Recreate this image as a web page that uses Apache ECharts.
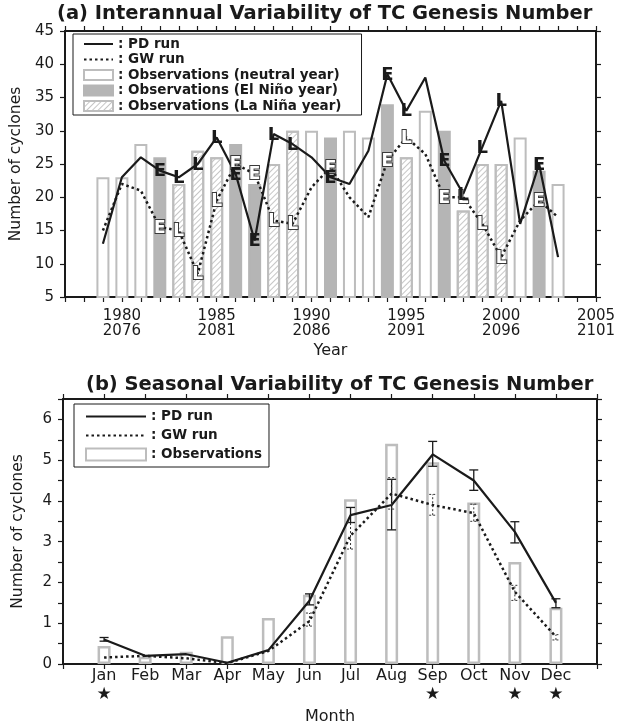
<!DOCTYPE html>
<html>
<head>
<meta charset="utf-8">
<title>TC Genesis Number</title>
<script src="https://cdn.jsdelivr.net/npm/echarts@6/dist/echarts.min.js"></script>
<style>
  html, body { margin: 0; padding: 0; background: #fff; }
  #chart { width: 628px; height: 726px; }
</style>
</head>
<body>
<div id="chart"></div>
<script>
// (a) interannual variability
const years = [1979, 1980, 1981, 1982, 1983, 1984, 1985, 1986, 1987, 1988, 1989, 1990, 1991,
               1992, 1993, 1994, 1995, 1996, 1997, 1998, 1999, 2000, 2001, 2002, 2003];
const ensoType = ['N', 'N', 'N', 'E', 'L', 'L', 'L', 'E', 'E', 'L', 'L', 'N', 'E',
                  'N', 'N', 'E', 'L', 'N', 'E', 'L', 'L', 'L', 'N', 'E', 'N'];
const obsYear = [23, 23, 28, 26, 22, 27, 26, 28, 22, 25, 30, 30, 29,
                 30, 29, 34, 26, 33, 30, 18, 25, 25, 29, 24, 22];
const pdYear = [13, 23, 26, 24, 23, 25, 29, 23.5, 13.5, 29.5, 28, 26, 23,
                22, 27, 38.5, 33, 38, 25.5, 20.5, 27.5, 34.5, 16, 25, 11];
const gwYear = [15, 22, 21, 15.5, 15, 8.5, 19.5, 25, 23.5, 16.5, 16, 21.5, 24.5,
                20, 17, 25.5, 29, 26.5, 20, 20, 16, 11, 16.5, 19.5, 17];
const yearTicks = [1980, 1985, 1990, 1995, 2000, 2005];
const futureTicks = [2076, 2081, 2086, 2091, 2096, 2101];

// (b) seasonal variability
const months = ['Jan', 'Feb', 'Mar', 'Apr', 'May', 'Jun', 'Jul', 'Aug', 'Sep', 'Oct', 'Nov', 'Dec'];
const starred = [true, false, false, false, false, false, false, false, true, false, true, true];
const obsMonth = [0.44, 0.18, 0.3, 0.68, 1.13, 1.7, 4.04, 5.4, 4.95, 3.96, 2.5, 1.38];
const pdMonth = [0.6, 0.2, 0.24, 0.03, 0.34, 1.55, 3.65, 3.9, 5.14, 4.5, 3.24, 1.5];
const pdErrLow = [0.56, null, null, null, null, 1.45, 3.47, 3.29, 4.85, 4.26, 2.97, 1.38];
const pdErrHigh = [0.65, null, null, null, null, 1.72, 3.84, 4.53, 5.46, 4.76, 3.49, 1.6];
const gwMonth = [0.16, 0.2, 0.14, 0.02, 0.32, 1.05, 3.15, 4.18, 3.9, 3.7, 1.77, 0.67];
const gwErrLow = [null, null, null, null, null, 0.93, 2.82, 3.8, 3.65, 3.5, 1.56, 0.59];
const gwErrHigh = [null, null, null, null, null, 1.25, 3.47, 4.57, 4.16, 3.92, 1.93, 0.72];

const FONT = "'DejaVu Sans', sans-serif";
const INK = '#1a1a1a';
const BAR_EDGE = '#bdbdbd';
const NO_MARK = 'rgba(0,0,0,0)';

function byType(t) {
  return years.map((y, i) => [y, obsYear[i], ensoType[i]])
    .filter(d => d[2] === t).map(d => [d[0], d[1]]);
}
const ensoIdx = years.map((y, i) => i).filter(i => ensoType[i] !== 'N');

function letterSeries(values, hollow) {
  return {
    type: 'custom', xAxisIndex: 0, yAxisIndex: 0, z: 5,
    data: ensoIdx.map(i => [years[i], values[i]]),
    renderItem(params, api) {
      const p = api.coord([api.value(0), api.value(1)]);
      const letter = ensoType[ensoIdx[params.dataIndex]];
      return {
        type: 'text', x: p[0], y: p[1] + 1,
        style: hollow ? {
          text: letter, font: 'bold 17px ' + FONT, align: 'center', verticalAlign: 'middle',
          fill: '#fff', stroke: '#3a3a3a', lineWidth: 2
        } : {
          text: letter, font: 'bold 18px ' + FONT, align: 'center', verticalAlign: 'middle',
          fill: INK
        }
      };
    }
  };
}

function errSeries(lo, hi, dotted) {
  const data = [];
  lo.forEach((v, i) => { if (v != null) data.push([i + 1, v, hi[i]]); });
  return {
    type: 'custom', xAxisIndex: 2, yAxisIndex: 2, z: 4,
    encode: { x: 0, y: [1, 2] },
    data: data,
    renderItem(params, api) {
      const x = api.value(0);
      const a = api.coord([x, api.value(1)]);
      const b = api.coord([x, api.value(2)]);
      const w = dotted ? 3.5 : 4.5;
      const st = dotted ? { stroke: '#333', lineWidth: 1, lineDash: [2, 2] } : { stroke: INK, lineWidth: 1.3 };
      return {
        type: 'group', children: [
          { type: 'line', shape: { x1: a[0], y1: a[1], x2: b[0], y2: b[1] }, style: st },
          { type: 'line', shape: { x1: a[0] - w, y1: a[1], x2: a[0] + w, y2: a[1] }, style: st },
          { type: 'line', shape: { x1: b[0] - w, y1: b[1], x2: b[0] + w, y2: b[1] }, style: st }
        ]
      };
    }
  };
}

const frameLine = { show: true, onZero: false, lineStyle: { color: INK, width: 2 } };
const tick = { show: true, length: 5, lineStyle: { color: INK, width: 1.2 } };
const lineLegend = name => ({ name: name, itemStyle: { color: NO_MARK, borderColor: NO_MARK, opacity: 0 } });

const myChart = echarts.init(document.getElementById('chart'));
myChart.setOption({
  backgroundColor: '#fff',
  animation: false,
  title: [
    { text: '(a) Interannual Variability of TC Genesis Number', left: 57, top: 4, padding: 0,
      textStyle: { fontFamily: FONT, fontWeight: 'bold', fontSize: 19.5, color: INK } },
    { text: '(b) Seasonal Variability of TC Genesis Number', left: 86, top: 375, padding: 0,
      textStyle: { fontFamily: FONT, fontWeight: 'bold', fontSize: 19.5, color: INK } }
  ],
  legend: [
    {
      left: 73, top: 34, orient: 'vertical', selectedMode: false,
      itemWidth: 29, itemHeight: 10, itemGap: 1.5,
      padding: [3, 20, 2, 10], borderColor: INK, borderWidth: 1, backgroundColor: '#fff',
      formatter: ': {name}',
      textStyle: { fontFamily: FONT, fontWeight: 'bold', fontSize: 13.5, color: INK, lineHeight: 14 },
      data: [
        lineLegend('PD run'), lineLegend('GW run'),
        { name: 'Observations (neutral year)', icon: 'rect' },
        { name: 'Observations (El Niño year)', icon: 'rect' },
        { name: 'Observations (La Niña year)', icon: 'rect' }
      ]
    },
    {
      left: 74, top: 404, orient: 'vertical', selectedMode: false,
      itemWidth: 60, itemHeight: 12, itemGap: 4,
      padding: [5, 7, 5, 11], borderColor: INK, borderWidth: 1, backgroundColor: '#fff',
      formatter: ': {name}',
      textStyle: { fontFamily: FONT, fontWeight: 'bold', fontSize: 13.5, color: INK, lineHeight: 15 },
      data: [lineLegend('PD run'), lineLegend('GW run'), { name: 'Observations', icon: 'rect' }]
    }
  ],
  grid: [
    { left: 63, top: 31, width: 533, height: 266 },
    { left: 63, top: 399, width: 534, height: 267 }
  ],
  xAxis: [
    {
      gridIndex: 0, type: 'value', position: 'bottom', min: 1977, max: 2005, interval: 1,
      axisLine: frameLine, axisTick: tick, splitLine: { show: false },
      name: 'Year', nameLocation: 'middle', nameGap: 46,
      nameTextStyle: { fontFamily: FONT, fontSize: 16, color: INK },
      axisLabel: {
        margin: 12, showMaxLabel: true, showMinLabel: true,
        formatter(v) {
          const i = yearTicks.indexOf(v);
          return i < 0 ? '' : '{a|' + v + '}\n{b|' + futureTicks[i] + '}';
        },
        rich: {
          a: { fontFamily: FONT, fontSize: 15, lineHeight: 15, color: INK },
          b: { fontFamily: FONT, fontSize: 15, lineHeight: 15, color: INK }
        }
      }
    },
    {
      gridIndex: 0, type: 'value', position: 'top', min: 1977, max: 2005, interval: 1,
      axisLine: frameLine, axisTick: tick, axisLabel: { show: false }, splitLine: { show: false }
    },
    {
      gridIndex: 1, type: 'value', position: 'bottom', min: 0, max: 13, interval: 1,
      axisLine: frameLine, axisTick: tick, splitLine: { show: false },
      name: 'Month', nameLocation: 'middle', nameGap: 45,
      nameTextStyle: { fontFamily: FONT, fontSize: 16, color: INK },
      axisLabel: {
        margin: 3, showMaxLabel: true, showMinLabel: true,
        formatter(v) {
          if (v < 1 || v > 12) return '';
          return '{m|' + months[v - 1] + '}' + (starred[v - 1] ? '\n{s|★}' : '');
        },
        rich: {
          m: { fontFamily: FONT, fontSize: 16, lineHeight: 18, color: INK },
          s: { fontFamily: FONT, fontSize: 17, lineHeight: 20, color: INK }
        }
      }
    },
    {
      gridIndex: 1, type: 'value', position: 'top', min: 0, max: 13, interval: 1,
      axisLine: frameLine, axisTick: tick, axisLabel: { show: false }, splitLine: { show: false }
    }
  ],
  yAxis: [
    {
      gridIndex: 0, type: 'value', position: 'left', min: 5, max: 45, interval: 5,
      axisLine: frameLine, axisTick: tick, splitLine: { show: false },
      name: 'Number of cyclones', nameLocation: 'middle', nameGap: 37, nameRotate: 90,
      nameTextStyle: { fontFamily: FONT, fontSize: 15.5, color: INK },
      axisLabel: { margin: 11, fontFamily: FONT, fontSize: 15, color: INK }
    },
    {
      gridIndex: 0, type: 'value', position: 'right', min: 5, max: 45, interval: 5,
      axisLine: frameLine, axisTick: tick, axisLabel: { show: false }, splitLine: { show: false }
    },
    {
      gridIndex: 1, type: 'value', position: 'left', min: 0, max: 6.5, interval: 0.5,
      axisLine: frameLine, axisTick: tick, splitLine: { show: false },
      name: 'Number of cyclones', nameLocation: 'middle', nameGap: 37, nameRotate: 90,
      nameTextStyle: { fontFamily: FONT, fontSize: 15.5, color: INK },
      axisLabel: {
        margin: 11, fontFamily: FONT, fontSize: 15, color: INK,
        formatter: v => (Number.isInteger(v) ? String(v) : '')
      }
    },
    {
      gridIndex: 1, type: 'value', position: 'right', min: 0, max: 6.5, interval: 0.5,
      axisLine: frameLine, axisTick: tick, axisLabel: { show: false }, splitLine: { show: false }
    }
  ],
  series: [
    // observations (a)
    {
      name: 'Observations (neutral year)', type: 'bar', xAxisIndex: 0, yAxisIndex: 0,
      barWidth: 13, barGap: '-100%', data: byType('N'),
      itemStyle: { color: '#fff', borderColor: BAR_EDGE, borderWidth: 2 }
    },
    {
      name: 'Observations (El Niño year)', type: 'bar', xAxisIndex: 0, yAxisIndex: 0,
      barWidth: 13, barGap: '-100%', data: byType('E'),
      itemStyle: { color: '#b5b5b5', borderColor: '#b5b5b5', borderWidth: 2 }
    },
    {
      name: 'Observations (La Niña year)', type: 'bar', xAxisIndex: 0, yAxisIndex: 0,
      barWidth: 13, barGap: '-100%', data: byType('L'),
      itemStyle: {
        color: '#fff', borderColor: BAR_EDGE, borderWidth: 2,
        decal: { symbol: 'rect', symbolSize: 1, dashArrayX: [1, 0], dashArrayY: [1, 3],
                 rotation: -Math.PI / 4, color: '#c6c6c6' }
      }
    },
    {
      name: 'PD run', type: 'line', xAxisIndex: 0, yAxisIndex: 0, symbol: 'none', z: 3,
      data: years.map((y, i) => [y, pdYear[i]]),
      lineStyle: { color: INK, width: 2.2 }, itemStyle: { color: NO_MARK }
    },
    {
      name: 'GW run', type: 'line', xAxisIndex: 0, yAxisIndex: 0, symbol: 'none', z: 3,
      data: years.map((y, i) => [y, gwYear[i]]),
      lineStyle: { color: INK, width: 2.5, type: [2.5, 3] }, itemStyle: { color: NO_MARK }
    },
    letterSeries(gwYear, true),
    letterSeries(pdYear, false),
    // (b)
    {
      name: 'Observations', type: 'bar', xAxisIndex: 2, yAxisIndex: 2,
      barWidth: 13, data: months.map((m, i) => [i + 1, obsMonth[i]]),
      itemStyle: { color: '#fff', borderColor: BAR_EDGE, borderWidth: 2.5 }
    },
    {
      name: 'PD run', type: 'line', xAxisIndex: 2, yAxisIndex: 2, symbol: 'none', z: 3,
      data: months.map((m, i) => [i + 1, pdMonth[i]]),
      lineStyle: { color: INK, width: 2.2 }, itemStyle: { color: NO_MARK }
    },
    {
      name: 'GW run', type: 'line', xAxisIndex: 2, yAxisIndex: 2, symbol: 'none', z: 3,
      data: months.map((m, i) => [i + 1, gwMonth[i]]),
      lineStyle: { color: INK, width: 2.5, type: [2.5, 3] }, itemStyle: { color: NO_MARK }
    },
    errSeries(pdErrLow, pdErrHigh, false),
    errSeries(gwErrLow, gwErrHigh, true)
  ]
});
</script>
</body>
</html>
